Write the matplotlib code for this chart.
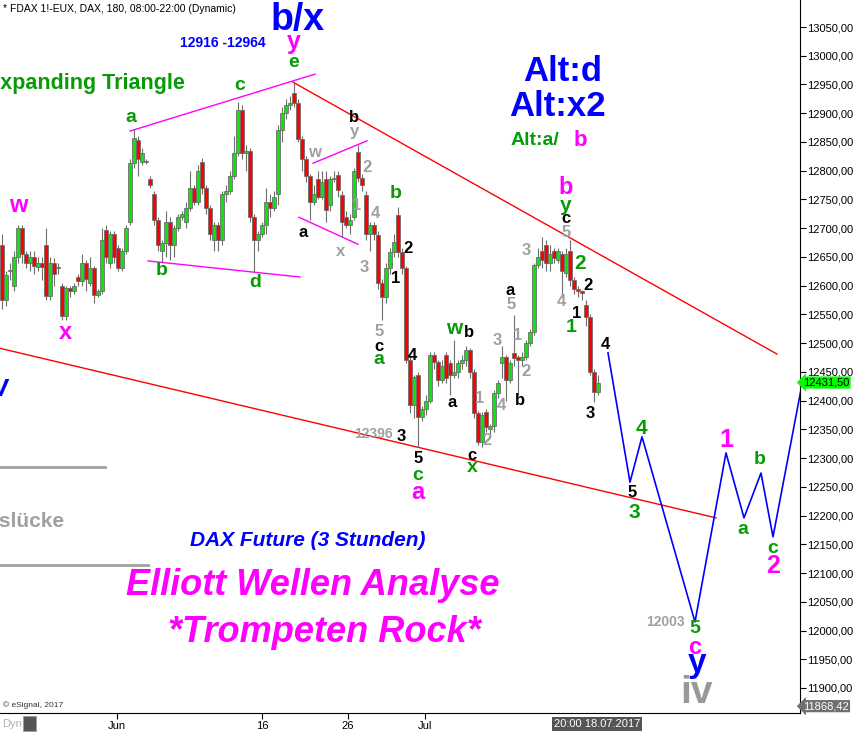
import matplotlib
matplotlib.use("Agg")
import matplotlib.pyplot as plt
from matplotlib.patches import Rectangle
from matplotlib.transforms import blended_transform_factory

OUTPUT_PNG = "out.png"
plt.rcParams["font.family"] = ["Liberation Sans", "DejaVu Sans"]

# FDAX 3h-Kerzen (Ende Mai bis 18.07.2017 20:00)
opens = [12671, 12575, 12625, 12600, 12650, 12700, 12655, 12640, 12650, 12632,
         12640, 12670, 12582, 12640, 12630, 12600, 12548, 12596, 12590, 12615,
         12608, 12640, 12605, 12630, 12584, 12590, 12697, 12640, 12690, 12665,
         12631, 12660, 12710, 12813, 12853, 12815, 12815, 12785, 12760, 12714,
         12660, 12675, 12711, 12670, 12700, 12720, 12710, 12735, 12770, 12745,
         12815, 12770, 12735, 12680, 12705, 12680, 12760, 12765, 12790, 12830,
         12905, 12830, 12835, 12719, 12680, 12690, 12705, 12745, 12735, 12760,
         12870, 12900, 12915, 12935, 12918, 12855, 12820, 12790, 12745, 12785,
         12755, 12785, 12740, 12785, 12792, 12758, 12720, 12705, 12720, 12832,
         12787, 12758, 12690, 12705, 12688, 12605, 12580, 12630, 12658, 12723,
         12658, 12631, 12471, 12392, 12445, 12371, 12385, 12400, 12479, 12467,
         12436, 12479, 12465, 12445, 12450, 12465, 12470, 12488, 12450, 12378,
         12328, 12380, 12350, 12355, 12413, 12465, 12476, 12436, 12483, 12476,
         12470, 12476, 12500, 12519, 12636, 12660, 12670, 12640, 12660, 12645,
         12655, 12622, 12660, 12610, 12595, 12590, 12566, 12545, 12450, 12415]
highs = [12690, 12625, 12640, 12660, 12705, 12705, 12660, 12660, 12660, 12650,
         12650, 12700, 12650, 12648, 12640, 12605, 12600, 12600, 12605, 12620,
         12655, 12645, 12650, 12635, 12595, 12700, 12705, 12695, 12695, 12670,
         12665, 12705, 12820, 12872, 12860, 12840, 12820, 12790, 12765, 12720,
         12680, 12730, 12720, 12705, 12725, 12730, 12745, 12800, 12775, 12810,
         12822, 12775, 12740, 12710, 12710, 12765, 12775, 12800, 12860, 12920,
         12915, 12845, 12840, 12725, 12695, 12710, 12770, 12760, 12765, 12880,
         12910, 12925, 12930, 12954, 12925, 12860, 12825, 12795, 12775, 12800,
         12800, 12800, 12790, 12800, 12800, 12765, 12730, 12725, 12805, 12845,
         12795, 12765, 12710, 12710, 12695, 12612, 12640, 12665, 12690, 12737,
         12665, 12635, 12478, 12445, 12450, 12390, 12410, 12484, 12485, 12470,
         12470, 12485, 12470, 12505, 12470, 12480, 12495, 12492, 12455, 12382,
         12380, 12385, 12360, 12418, 12435, 12495, 12480, 12470, 12549, 12480,
         12485, 12505, 12525, 12640, 12665, 12685, 12680, 12670, 12665, 12665,
         12660, 12665, 12679, 12615, 12600, 12592, 12575, 12550, 12455, 12445]
lows = [12560, 12565, 12610, 12590, 12640, 12640, 12630, 12625, 12620, 12625,
        12610, 12575, 12575, 12600, 12620, 12540, 12540, 12580, 12585, 12600,
        12600, 12590, 12600, 12570, 12580, 12585, 12640, 12630, 12640, 12625,
        12625, 12655, 12705, 12805, 12790, 12810, 12812, 12770, 12705, 12660,
        12641, 12650, 12645, 12650, 12695, 12715, 12700, 12730, 12740, 12740,
        12760, 12725, 12680, 12660, 12660, 12670, 12745, 12760, 12785, 12825,
        12820, 12800, 12710, 12624, 12660, 12685, 12690, 12720, 12730, 12740,
        12850, 12890, 12905, 12910, 12850, 12800, 12780, 12714, 12740, 12750,
        12750, 12710, 12730, 12780, 12755, 12685, 12700, 12690, 12715, 12780,
        12765, 12680, 12660, 12680, 12595, 12540, 12570, 12620, 12650, 12650,
        12620, 12465, 12378, 12370, 12319, 12365, 12375, 12395, 12455, 12425,
        12430, 12430, 12410, 12440, 12440, 12455, 12460, 12440, 12370, 12323,
        12320, 12345, 12340, 12345, 12405, 12440, 12400, 12430, 12460, 12410,
        12460, 12470, 12495, 12515, 12630, 12630, 12625, 12625, 12640, 12640,
        12580, 12615, 12600, 12585, 12580, 12575, 12530, 12445, 12398, 12410]
closes = [12575, 12618, 12628, 12650, 12700, 12655, 12640, 12650, 12635, 12640,
          12632, 12582, 12640, 12620, 12632, 12548, 12596, 12590, 12600, 12608,
          12640, 12612, 12630, 12584, 12590, 12680, 12650, 12690, 12650, 12631,
          12660, 12700, 12813, 12857, 12820, 12830, 12816, 12775, 12714, 12671,
          12675, 12711, 12670, 12700, 12720, 12725, 12735, 12770, 12745, 12800,
          12770, 12735, 12690, 12705, 12680, 12760, 12765, 12790, 12830, 12905,
          12830, 12835, 12719, 12680, 12690, 12705, 12745, 12735, 12755, 12870,
          12900, 12915, 12918, 12918, 12855, 12820, 12790, 12745, 12760, 12755,
          12780, 12732, 12785, 12788, 12766, 12710, 12705, 12715, 12800, 12787,
          12775, 12690, 12705, 12690, 12605, 12580, 12630, 12658, 12676, 12658,
          12631, 12471, 12392, 12441, 12371, 12385, 12400, 12479, 12467, 12436,
          12460, 12440, 12445, 12450, 12465, 12470, 12488, 12450, 12378, 12328,
          12375, 12354, 12355, 12413, 12430, 12476, 12436, 12465, 12474, 12470,
          12476, 12500, 12519, 12636, 12650, 12645, 12640, 12655, 12648, 12660,
          12625, 12655, 12610, 12595, 12590, 12588, 12545, 12450, 12415, 12431.5]

# Prognose-Pfad (Balken-Index, Kurs)
proj_x = [151.5, 157, 160, 173.25, 181, 185.5, 189.75, 192.75, 201]
proj_y = [12483, 12258, 12337, 12015, 12309, 12196, 12274, 12163, 12465]

# Trendlinien
upper_red_x, upper_red_y = [72.75, 193.75], [12954, 12481]
lower_red_x, lower_red_y = [-0.5, 178.5], [12491, 12196]
tri_top_x, tri_top_y = [32, 78.25], [12869, 12968]
tri_bot_x, tri_bot_y = [36.5, 74.5], [12643, 12615]
chan_top_x, chan_top_y = [77.75, 91.25], [12813, 12852]
chan_bot_x, chan_bot_y = [74.25, 89], [12719, 12672]

price_ticks = list(range(11900, 13051, 50))
time_ticks = [28.75, 65, 86.5, 105.75]
time_labels = ["Jun", "16", "26", "Jul"]
last_price = 12431.50
low_price = 11868.42

GREEN = "#079c07"
MAG = "#ff00ff"
BLUE = "#0000ff"
GRAY = "#a0a0a0"

# Wellen-Beschriftungen: x, y, text, farbe, groesse
LABELS = [
    (73, 13024, "y", MAG, 18), (73, 12989, "e", GREEN, 14),
    (59.5, 12949, "c", GREEN, 14), (32.25, 12893, "a", GREEN, 14),
    (4, 12740, "w", MAG, 17), (15.75, 12518, "x", MAG, 17),
    (40, 12627, "b", GREEN, 14), (63.25, 12605, "d", GREEN, 14),
    (88, 12893, "b", "black", 12), (88, 12869, "y", GRAY, 12),
    (78, 12831, "w", GRAY, 12), (91.25, 12805, "2", GRAY, 12),
    (88.75, 12740, "1", GRAY, 12), (93.25, 12725, "4", GRAY, 12),
    (75.25, 12693, "a", "black", 12), (84.75, 12659, "x", GRAY, 12),
    (90.5, 12631, "3", GRAY, 12), (98.5, 12761, "b", GREEN, 14),
    (101.5, 12664, "2", "black", 12), (98.5, 12612, "1", "black", 12),
    (94.25, 12521, "5", GRAY, 12), (94.25, 12495, "c", "black", 12),
    (94.25, 12472, "a", GREEN, 14), (102.5, 12479, "4", "black", 12),
    (113, 12525, "w", GREEN, 15), (116.75, 12518, "b", "black", 12),
    (112.5, 12396, "a", "black", 12), (99.75, 12338, "3", "black", 12),
    (104, 12300, "5", "black", 12), (104, 12270, "c", GREEN, 14),
    (104, 12241, "a", MAG, 17), (117.5, 12305, "c", "black", 12),
    (117.5, 12283, "x", GREEN, 14), (119.5, 12404, "1", GRAY, 12),
    (121.25, 12331, "2", GRAY, 12), (123.75, 12505, "3", GRAY, 12),
    (124.75, 12392, "4", GRAY, 12), (127, 12592, "a", "black", 12),
    (127.25, 12568, "5", GRAY, 12), (129, 12514, "1", GRAY, 12),
    (131, 12450, "2", GRAY, 12), (129.5, 12401, "b", "black", 12),
    (131, 12662, "3", GRAY, 12), (141, 12770, "b", MAG, 17),
    (141, 12740, "y", GREEN, 15), (141, 12716, "c", "black", 12),
    (141, 12692, "5", GRAY, 12), (144.5, 12638, "2", GREEN, 15),
    (139.75, 12572, "4", GRAY, 12), (146.5, 12601, "2", "black", 12),
    (143.75, 12552, "1", "black", 12), (142.25, 12528, "1", GREEN, 14),
    (150.75, 12497, "4", "black", 12), (147, 12378, "3", "black", 12),
    (159.75, 12352, "4", GREEN, 15), (157.5, 12241, "5", "black", 12),
    (158, 12206, "3", GREEN, 15), (181, 12331, "1", MAG, 18),
    (189.5, 12297, "b", GREEN, 14), (185.25, 12175, "a", GREEN, 14),
    (192.75, 12143, "c", GREEN, 14), (192.75, 12112, "2", MAG, 18),
    (165.75, 12015, "12003", GRAY, 10), (173.25, 12004, "5", GREEN, 14),
    (173.25, 11971, "c", MAG, 17), (173.75, 11943, "y", BLUE, 24),
    (173.75, 11891, "iv", "#999999", 28), (92.75, 12342, "12396", GRAY, 10),
]


def main():
    fig = plt.figure(figsize=(8.54, 7.33), dpi=100)
    ax = fig.add_axes([0, 20 / 733, 800 / 854, 713 / 733])
    ax.set_xlim(-0.5, 199.5)
    ax.set_ylim(11856.5, 13097)

    # Kerzen
    xs = list(range(len(closes)))
    ax.vlines(xs, lows, highs, color="#6e6e6e", lw=0.8, zorder=2)
    bottoms = [min(o, c) for o, c in zip(opens, closes)]
    heights = [max(abs(c - o), 2) for o, c in zip(opens, closes)]
    colors = ["#12e012" if c >= o else "#ff0000" for o, c in zip(opens, closes)]
    ax.bar(xs, heights, bottom=bottoms, width=0.8, color=colors,
           edgecolor="#6e6e6e", linewidth=0.6, zorder=3)

    # Linien
    ax.plot(upper_red_x, upper_red_y, color="#ff0000", lw=1, zorder=1)
    ax.plot(lower_red_x, lower_red_y, color="#ff0000", lw=1, zorder=1)
    for lx, ly in [(tri_top_x, tri_top_y), (tri_bot_x, tri_bot_y),
                   (chan_top_x, chan_top_y), (chan_bot_x, chan_bot_y)]:
        ax.plot(lx, ly, color=MAG, lw=1, zorder=1)
    ax.plot(proj_x, proj_y, color=BLUE, lw=1.2, zorder=4)

    # graue Linien (Rest einer Legende am linken Rand)
    ax.plot([-0.5, 25.75], [12284, 12284], color=GRAY, lw=2)
    ax.plot([-0.5, 36.5], [12114, 12114], color=GRAY, lw=2)

    for x, y, t, c, s in LABELS:
        ax.text(x, y, t, color=c, fontsize=s, fontweight="bold",
                ha="center", va="center", zorder=6)

    # groessere Texte
    ax.text(74, 13063, "b/x", color=BLUE, fontsize=27, fontweight="bold",
            ha="center", va="center")
    ax.text(55.25, 13022, "12916 -12964", color=BLUE, fontsize=10,
            fontweight="bold", ha="center", va="center")
    ax.text(45.75, 12951, "Expanding Triangle", color=GREEN, fontsize=15.5,
            fontweight="bold", ha="right", va="center")
    ax.text(15.75, 12190, "Kurslücke", color=GRAY, fontsize=15,
            fontweight="bold", ha="right", va="center")
    ax.text(-1.75, 12422, "w", color=BLUE, fontsize=22, fontweight="bold",
            fontstyle="italic", ha="center", va="center")
    ax.text(140.25, 12972, "Alt:d", color=BLUE, fontsize=25,
            fontweight="bold", ha="center", va="center")
    ax.text(138.75, 12911, "Alt:x2", color=BLUE, fontsize=25,
            fontweight="bold", ha="center", va="center")
    ax.text(133.25, 12852, "Alt:a/", color=GREEN, fontsize=14,
            fontweight="bold", ha="center", va="center")
    ax.text(144.5, 12853, "b", color=MAG, fontsize=16,
            fontweight="bold", ha="center", va="center")
    ax.text(76.5, 12157, "DAX Future (3 Stunden)", color=BLUE, fontsize=15,
            fontweight="bold", fontstyle="italic", ha="center", va="center")
    ax.text(77.75, 12079, "Elliott Wellen Analyse", color=MAG, fontsize=26,
            fontweight="bold", fontstyle="italic", ha="center", va="center")
    ax.text(80.5, 11996, "*Trompeten Rock*", color=MAG, fontsize=26,
            fontweight="bold", fontstyle="italic", ha="center", va="center")

    ax.text(0.004, 0.9875, "* FDAX 1!-EUX, DAX, 180, 08:00-22:00 (Dynamic)",
            transform=ax.transAxes, fontsize=7.5, ha="left", va="center")
    ax.text(0.004, 0.011, "© eSignal, 2017", transform=ax.transAxes,
            fontsize=6, color="#333333", ha="left", va="center")

    # Achsen
    for side in ["top", "left"]:
        ax.spines[side].set_visible(False)
    ax.spines["right"].set_color("black")
    ax.spines["bottom"].set_color("black")
    ax.yaxis.tick_right()
    ax.set_yticks(price_ticks)
    ax.set_yticklabels([f"{v:.2f}".replace(".", ",") for v in price_ticks])
    ax.tick_params(axis="y", direction="out", length=4, labelsize=8, pad=1)
    ax.set_xticks(time_ticks)
    ax.set_xticklabels(time_labels)
    ax.tick_params(axis="x", direction="out", length=4, labelsize=8, pad=2)

    tr = blended_transform_factory(ax.transAxes, ax.transData)
    ax.text(1.004, last_price, f"{last_price:.2f}".replace(".", ","),
            transform=tr, fontsize=8, ha="left", va="center",
            bbox=dict(boxstyle="larrow,pad=0.1", fc="#00ff00", ec="none"))
    ax.text(1.004, low_price, f"{low_price:.2f}".replace(".", ","),
            transform=tr, fontsize=8, ha="left", va="center", color="white",
            bbox=dict(boxstyle="larrow,pad=0.1", fc="#707070", ec="none"))

    trx = blended_transform_factory(ax.transData, ax.transAxes)
    ax.text(148.75, -0.0155, "20:00 18.07.2017", transform=trx, fontsize=8,
            color="white", ha="center", va="center",
            bbox=dict(boxstyle="square,pad=0.15", fc="#555555", ec="none"))

    fig.text(0.003, 0.012, "Dyn", fontsize=8, color="#b0b0b0",
             ha="left", va="center")
    fig.patches.append(Rectangle((23 / 854, 2 / 733), 13 / 854, 15 / 733,
                                 transform=fig.transFigure, fc="#555555",
                                 ec="#999999", lw=0.5))

    fig.savefig(OUTPUT_PNG, dpi=100)
    plt.close(fig)


if __name__ == "__main__":
    main()
